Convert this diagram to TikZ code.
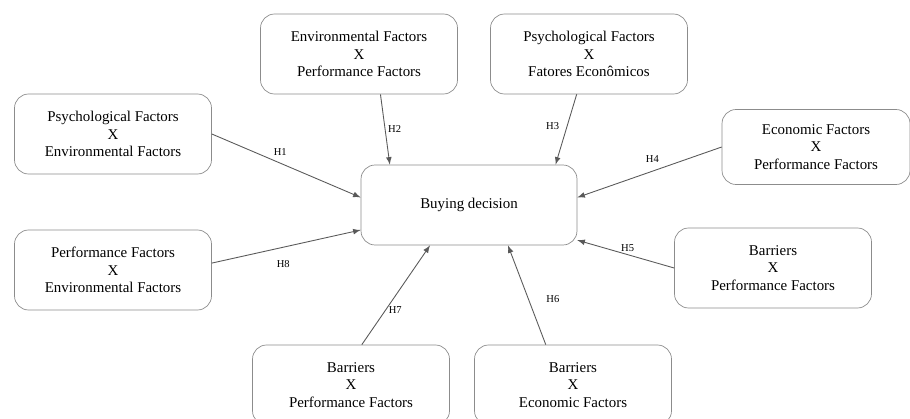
\documentclass[tikz,border=0pt]{standalone}
\usepackage{fontspec}
\setmainfont{Liberation Serif}
\usetikzlibrary{positioning}
\colorlet{boxline}{black!45}
\colorlet{arrline}{black!65}

\begin{document}
\begin{tikzpicture}[x=0.02cm, y=-0.02cm]
  \tikzset{fct/.style={draw=boxline, rounded corners=8pt, align=center, minimum width=3.94cm, minimum height=1.6cm, font=\fontsize{8.5}{10}\selectfont, inner sep=2pt},
    hyp/.style={draw=arrline, line width=0.5pt, ->, >=latex},
    hl/.style={font=\fontsize{6}{7}\selectfont, inner sep=1.5pt}}
\useasboundingbox (0,0) rectangle (910,419);
\node[fct, minimum width=4.32cm] (bd) at (469,205) {Buying decision};
\node[fct] (pe) at (113,134) {Psychological Factors\\X\\Environmental Factors};
\node[fct] (ep) at (359,54) {Environmental Factors\\X\\Performance Factors};
\node[fct] (pf) at (589,54) {Psychological Factors\\X\\Fatores Econômicos};
\node[fct, minimum width=3.76cm, minimum height=1.5cm] (cp) at (816,147) {Economic Factors\\X\\Performance Factors};
\node[fct] (bp) at (773,268) {Barriers\\X\\Performance Factors};
\node[fct, minimum height=1.6cm] (be) at (573,385) {Barriers\\X\\Economic Factors};
\node[fct, minimum height=1.6cm] (bq) at (351,385) {Barriers\\X\\Performance Factors};
\node[fct] (fe) at (113,270) {Performance Factors\\X\\Environmental Factors};
\draw[hyp] (pe.east) -- node[hl, pos=0.46, above=1mm] {H1} (bd.176);
\draw[hyp] (ep.298) -- node[hl, pos=0.5, right] {H2} (bd.153);
\draw[hyp] (pf.253) -- node[hl, pos=0.45, left=1mm] {H3} (bd.25);
\draw[hyp] (cp.west) -- node[hl, pos=0.48, above=1.2mm] {H4} (bd.4);
\draw[hyp] (bp.west) -- node[hl, pos=0.48, above] {H5} (bd.342);
\draw[hyp] (be.124) -- node[hl, pos=0.46, right=3mm] {H6} (bd.314);
\draw[hyp] (bq.75) -- node[hl, pos=0.35, right] {H7} (bd.226);
\draw[hyp] (fe.4) -- node[hl, pos=0.48, below=2mm] {H8} (bd.193);
\end{tikzpicture}
\end{document}
